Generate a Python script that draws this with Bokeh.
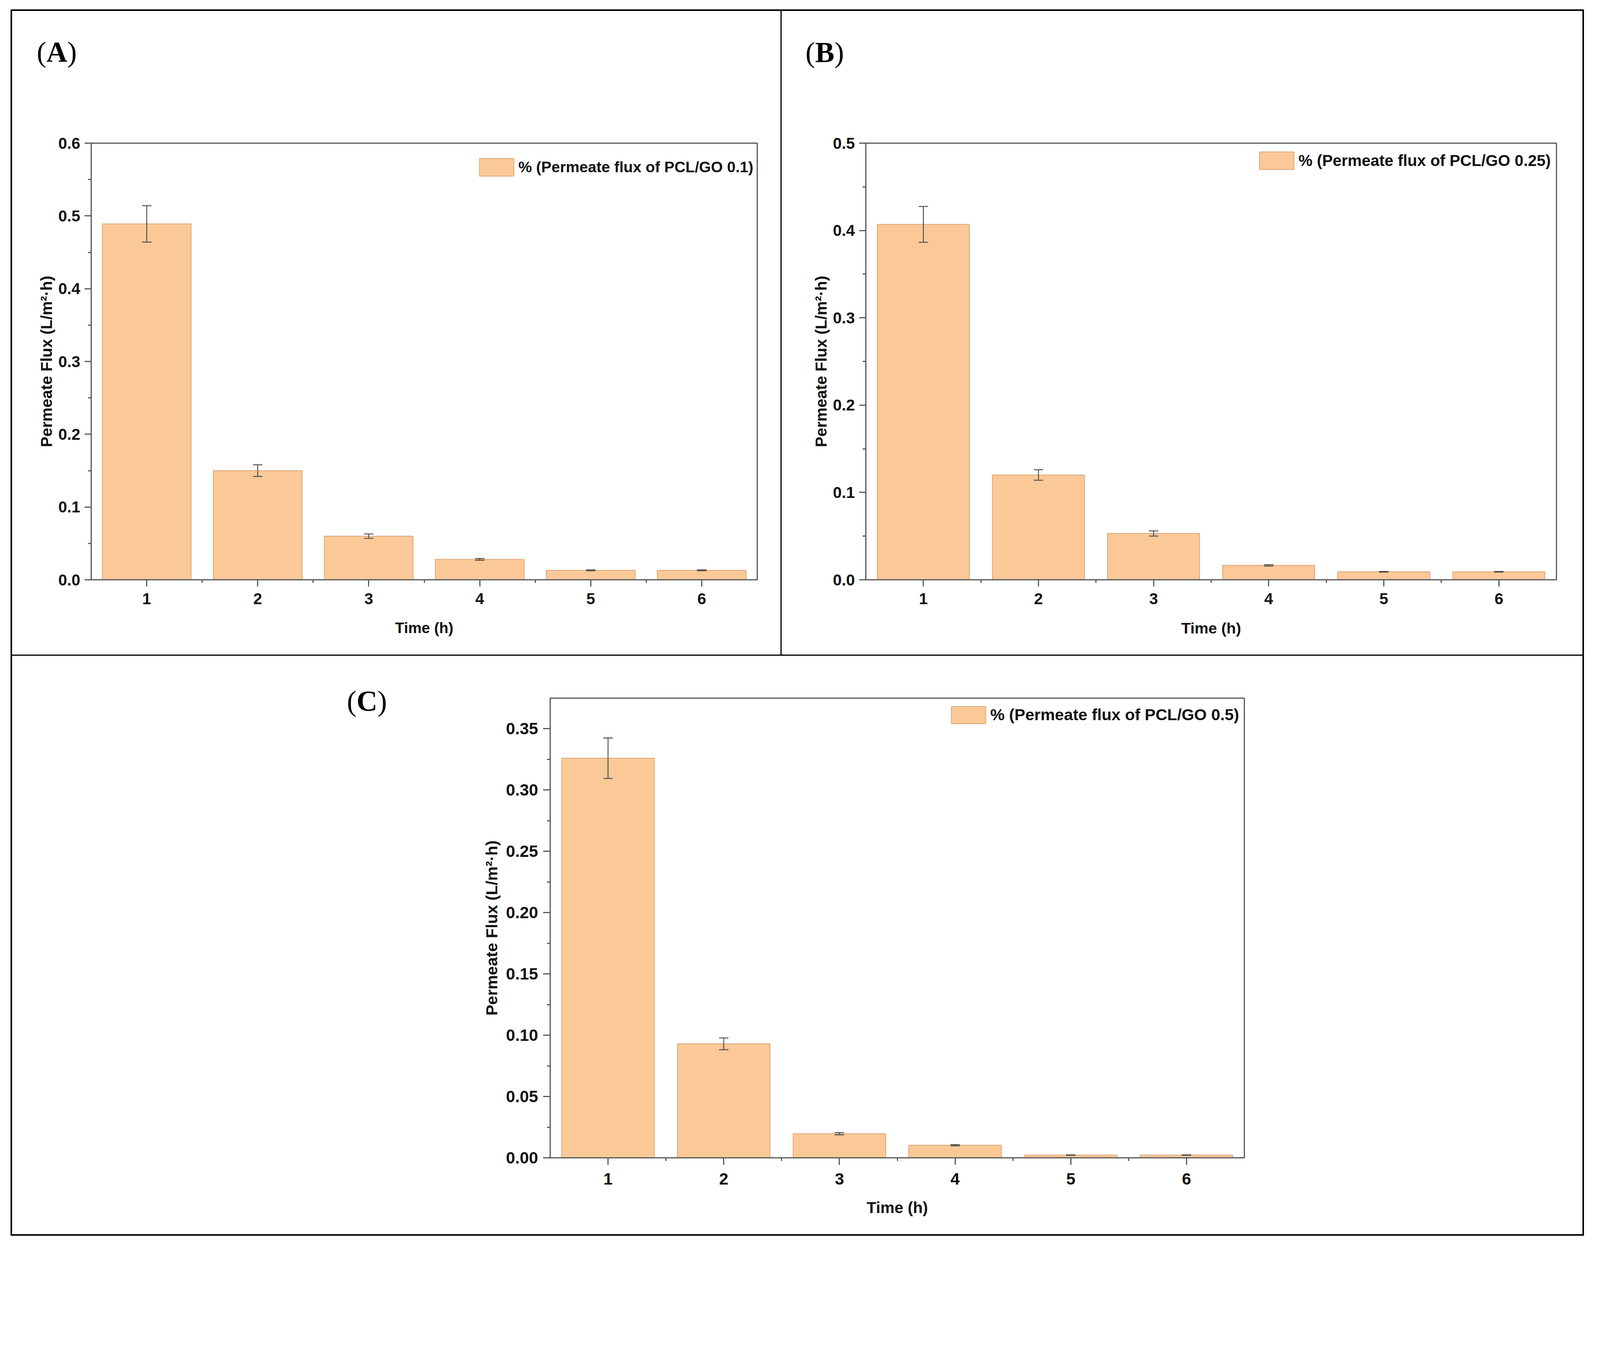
from bokeh.plotting import figure
from bokeh.layouts import column, row
from bokeh.models import (Spacer, Range1d, FixedTicker, NumeralTickFormatter,
                          Whisker, TeeHead, ColumnDataSource, Div)
from bokeh.embed import file_html
from bokeh.resources import INLINE

# ---------------- data ----------------
time_h = [1, 2, 3, 4, 5, 6]
x_ticks = [1, 2, 3, 4, 5, 6]
x_minor = [1.5, 2.5, 3.5, 4.5, 5.5]

flux_A = [0.489, 0.150, 0.060, 0.028, 0.013, 0.013]
err_A = [0.025, 0.008, 0.003, 0.0012, 0.0006, 0.0006]
flux_B = [0.407, 0.120, 0.053, 0.0165, 0.0092, 0.0092]
err_B = [0.0205, 0.006, 0.003, 0.0008, 0.0004, 0.0004]
flux_C = [0.326, 0.093, 0.0197, 0.0103, 0.0022, 0.0022]
err_C = [0.0165, 0.0048, 0.0009, 0.0005, 0.0002, 0.0002]

yticks_A = [0.0, 0.1, 0.2, 0.3, 0.4, 0.5, 0.6]
yminor_A = [0.05, 0.15, 0.25, 0.35, 0.45, 0.55]
yticks_B = [0.0, 0.1, 0.2, 0.3, 0.4, 0.5]
yminor_B = [0.05, 0.15, 0.25, 0.35, 0.45]
yticks_C = [0.0, 0.05, 0.10, 0.15, 0.20, 0.25, 0.30, 0.35]
yminor_C = [0.025, 0.075, 0.125, 0.175, 0.225, 0.275, 0.325]

legend_A = "% (Permeate flux of PCL/GO 0.1)"
legend_B = "% (Permeate flux of PCL/GO 0.25)"
legend_C = "% (Permeate flux of PCL/GO 0.5)"
x_title = "Time (h)"
y_title = "Permeate Flux (L/m\u00b2\u00b7h)"
tags = ["A", "B", "C"]

# ---------------- style ----------------
BAR_FILL = "#FBC998"
BAR_LINE = "#DDA677"
AXIS = "#595959"
ERR = "#4a4a4a"
SANS = "Liberation Sans"
SERIF = "Liberation Serif"

# picture pixels per CSS pixel (measured from a first render)
K = 1.087


def cpx(v):
    return int(round(v / K))


def cf(v):
    return round(v / K, 1)


# layout edges in picture pixels
X_LO, X_A0, X_A1, X_B0, X_B1, X_RO = 38, 42, 2181, 2184, 4412, 4416
Y_TO, Y_10, Y_11, Y_20, Y_21, Y_BO = 35, 39, 1830, 1834, 3444, 3448

xs = [cpx(v) for v in (X_LO, X_A0, X_A1, X_B0, X_B1, X_RO)]
ys = [cpx(v) for v in (Y_TO, Y_10, Y_11, Y_20, Y_21, Y_BO)]

TAG_FS = 74          # css px
TAG_BASE = 0.8375    # baseline position inside a line box of height = font size
TAG_DX, TAG_DY = 5, 9
TAG_W = 150
LEG_DX, LEG_DY = 8, 8


def tag_html(letter):
    return (f'<span style="font-family:\'{SERIF}\',serif;font-size:{TAG_FS}px;'
            f'line-height:{TAG_FS}px;color:black;white-space:nowrap;">'
            f'(<b>{letter}</b>)</span>')


def tag_div(letter, width, height):
    return Div(text=tag_html(letter), width=width, height=height, margin=0,
               styles={"line-height": f"{TAG_FS}px", "padding": "0px"})


def panel(canvas, frame, yend, yticks, yminor, fmt, flux, err, label,
          tick_fs, xt_fs, yt_fs, leg_fs, swatch,
          tick_out, tick_sd, xtick_sd, xlab_sd, ylab_sd):
    cx0, cy0, cx1, cy1 = canvas                      # css
    fl, fr, ft, fb = [cpx(v) for v in frame]         # css
    width, height = cx1 - cx0, cy1 - cy0
    p = figure(width=width, height=height, output_backend="svg",
               toolbar_location=None,
               x_range=Range1d(0.5, 6.5), y_range=Range1d(0, yend),
               min_border_left=fl - cx0, min_border_right=cx1 - fr,
               min_border_top=ft - cy0, min_border_bottom=cy1 - fb)
    p.xgrid.visible = False
    p.ygrid.visible = False
    p.outline_line_color = AXIS
    p.outline_line_width = 3
    p.background_fill_color = "white"
    p.border_fill_color = "white"

    src = ColumnDataSource(dict(
        x=time_h, top=flux,
        upper=[f + e for f, e in zip(flux, err)],
        lower=[f - e for f, e in zip(flux, err)]))
    p.vbar(x="x", top="top", bottom=0, width=0.8, source=src,
           fill_color=BAR_FILL, line_color=BAR_LINE, line_width=2,
           legend_label=label)
    w = Whisker(source=src, base="x", upper="upper", lower="lower",
                line_color=ERR, line_width=2.3, level="annotation",
                upper_head=TeeHead(size=24, line_color=ERR, line_width=2.3),
                lower_head=TeeHead(size=24, line_color=ERR, line_width=2.3))
    p.add_layout(w)

    for ax in (p.xaxis[0], p.yaxis[0]):
        ax.axis_line_color = AXIS
        ax.axis_line_width = 3
        ax.major_tick_line_color = AXIS
        ax.major_tick_line_width = 3
        ax.minor_tick_line_color = AXIS
        ax.minor_tick_line_width = 3
        ax.major_tick_in = 0
        ax.major_tick_out = tick_out
        ax.minor_tick_in = 0
        ax.minor_tick_out = 8
        ax.major_label_text_font = SANS
        ax.major_label_text_font_style = "bold"
        ax.major_label_text_font_size = f"{tick_fs}px"
        ax.major_label_text_color = "#111111"
        ax.axis_label_text_font = SANS
        ax.axis_label_text_font_style = "bold"
        ax.axis_label_text_color = "#111111"

    p.xaxis[0].ticker = FixedTicker(ticks=x_ticks, minor_ticks=x_minor)
    p.xaxis[0].formatter = NumeralTickFormatter(format="0")
    p.xaxis[0].major_label_standoff = xtick_sd
    p.xaxis[0].axis_label = x_title
    p.xaxis[0].axis_label_text_font_size = f"{xt_fs}px"
    p.xaxis[0].axis_label_standoff = xlab_sd

    p.yaxis[0].ticker = FixedTicker(ticks=yticks, minor_ticks=yminor)
    p.yaxis[0].formatter = NumeralTickFormatter(format=fmt)
    p.yaxis[0].major_label_standoff = tick_sd
    p.yaxis[0].axis_label = y_title
    p.yaxis[0].axis_label_text_font_size = f"{yt_fs}px"
    p.yaxis[0].axis_label_standoff = ylab_sd

    # legend: Bokeh insets the area swatch by 10% of the glyph box on each side
    gw = cpx(96 / 0.8)
    gh = cpx(swatch[2] / 0.8)
    sw_l, sw_t = cpx(swatch[0]) + LEG_DX, cpx(swatch[1]) + LEG_DY
    lg = p.legend[0]
    lg.location = (sw_l - int(round(0.1 * gw)) - fl,
                   fb - (sw_t - int(round(0.1 * gh)) + gh))
    lg.border_line_alpha = 0
    lg.background_fill_alpha = 0
    lg.padding = 0
    lg.margin = 0
    lg.spacing = 0
    lg.label_standoff = 1
    lg.glyph_width = gw
    lg.glyph_height = gh
    lg.label_height = gh
    lg.label_text_font = SANS
    lg.label_text_font_style = "bold"
    lg.label_text_font_size = f"{leg_fs}px"
    lg.label_text_color = "#111111"
    return p


TAG_BLOCK = 200      # css px band above the top-row figures that holds the tag

# ---- panel A: tag "(" at picture (105, baseline 171)
a_tag_x = cpx(105) - xs[1] + TAG_DX
a_tag_top = (cpx(171) - ys[1]) - int(round(TAG_BASE * TAG_FS)) + TAG_DY
figA = panel((xs[1], ys[1] + TAG_BLOCK, xs[2], ys[2]), (262, 2115, 406.5, 1621.5), 0.6,
             yticks_A, yminor_A, "0.0", flux_A, err_A, legend_A,
             cf(44), cf(42), cf(44), cf(42.5), (1334, 441, 49), 17, 11, 17, 36, 4)
cellA = column(
    Spacer(width=10, height=a_tag_top),
    row(Spacer(width=a_tag_x, height=TAG_BLOCK - a_tag_top),
        tag_div(tags[0], TAG_W, TAG_BLOCK - a_tag_top)),
    figA)

# ---- panel B: tag at picture (2245, baseline 172)
b_tag_x = cpx(2245) - xs[3] + TAG_DX
b_tag_top = (cpx(172) - ys[1]) - int(round(TAG_BASE * TAG_FS)) + TAG_DY
figB = panel((xs[3], ys[1] + TAG_BLOCK, xs[4], ys[2]), (2417, 4339, 406.5, 1621.5), 0.5,
             yticks_B, yminor_B, "0.0", flux_B, err_B, legend_B,
             cf(44), cf(43), cf(44), cf(44), (3505, 423, 49), 17, 11, 17, 36, 4)
cellB = column(
    Spacer(width=10, height=b_tag_top),
    row(Spacer(width=b_tag_x, height=TAG_BLOCK - b_tag_top),
        tag_div(tags[1], TAG_W, TAG_BLOCK - b_tag_top)),
    figB)

# ---- panel C: tag column on the left, tag at picture (969, baseline 1977)
TAG_COL = 1000
c_tag_x = cpx(969) - xs[1] + TAG_DX
c_tag_top = (cpx(1977) - ys[3]) - int(round(TAG_BASE * TAG_FS)) + TAG_DY
figC = panel((xs[1] + TAG_COL, ys[3], xs[4], ys[4]), (1539, 3471, 1951, 3231), 0.375,
             yticks_C, yminor_C, "0.00", flux_C, err_C, legend_C,
             cf(46), cf(44), cf(45), cf(45), (2647, 1966, 48), 18, 13, 21, 33, 10)
row2_h = ys[4] - ys[3]
cellC = row(
    column(Spacer(width=TAG_COL, height=c_tag_top),
           row(Spacer(width=c_tag_x, height=120),
               tag_div(tags[2], TAG_COL - c_tag_x, 120)),
           Spacer(width=TAG_COL, height=row2_h - c_tag_top - 120)),
    figC)


def bar_line(w, h):
    return Spacer(width=w, height=h, styles={"background-color": "black"})


full_w = xs[5] - xs[0]
lead = xs[0] - 8
row1_h = ys[2] - ys[1]
layout = column(
    Spacer(width=10, height=ys[0] - 8),
    row(Spacer(width=lead, height=ys[1] - ys[0]), bar_line(full_w, ys[1] - ys[0])),
    row(Spacer(width=lead, height=row1_h),
        bar_line(xs[1] - xs[0], row1_h),
        cellA,
        bar_line(xs[3] - xs[2], row1_h),
        cellB,
        bar_line(xs[5] - xs[4], row1_h)),
    row(Spacer(width=lead, height=ys[3] - ys[2]), bar_line(full_w, ys[3] - ys[2])),
    row(Spacer(width=lead, height=row2_h),
        bar_line(xs[1] - xs[0], row2_h),
        cellC,
        bar_line(xs[5] - xs[4], row2_h)),
    row(Spacer(width=lead, height=ys[5] - ys[4]), bar_line(full_w, ys[5] - ys[4])),
)

open("out.html", "w").write(file_html(layout, INLINE))
